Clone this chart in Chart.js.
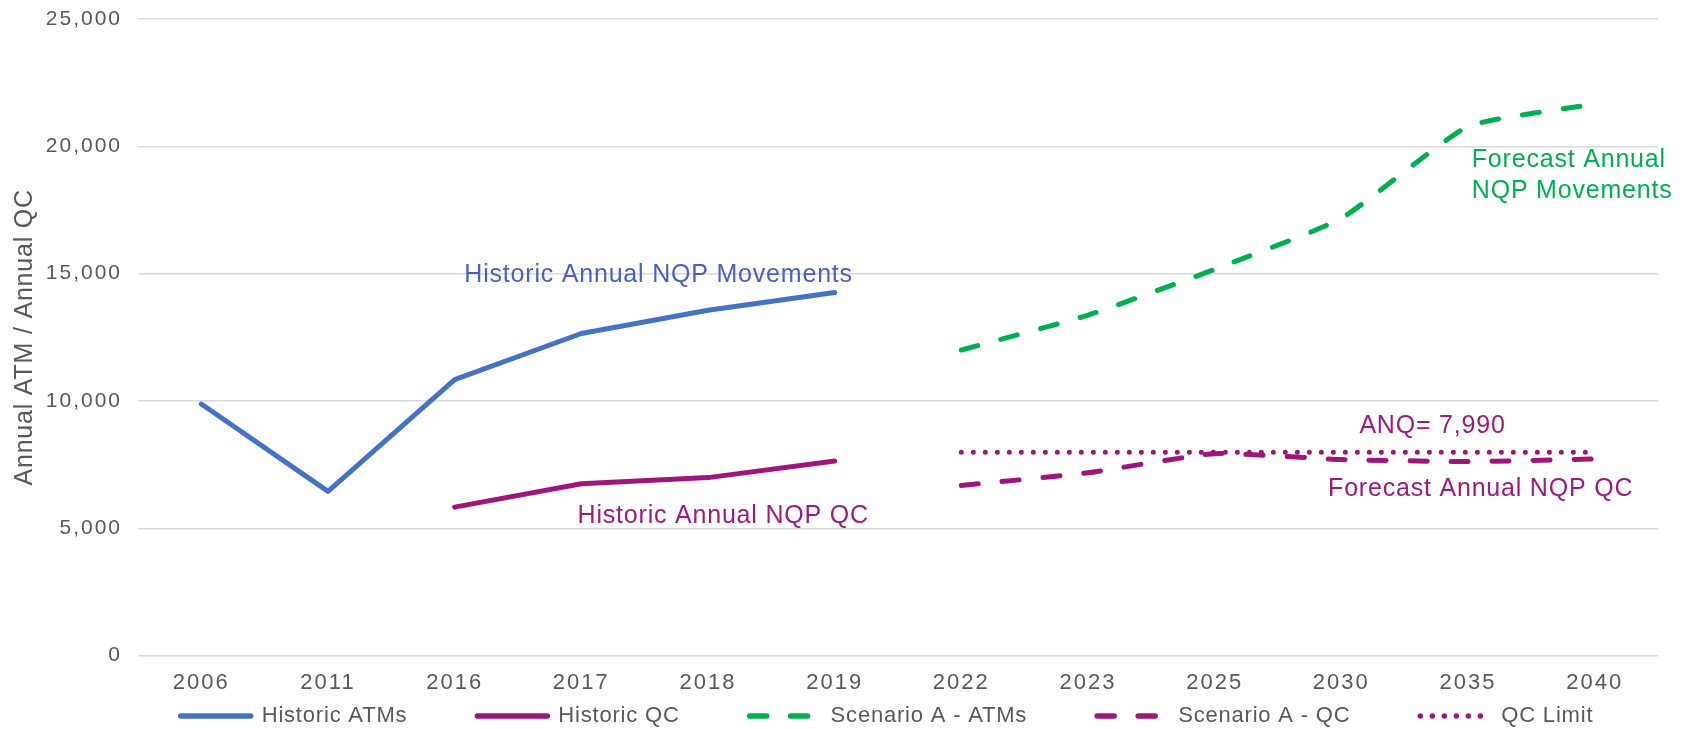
<!DOCTYPE html>
<html><head><meta charset="utf-8">
<script src="https://cdn.jsdelivr.net/npm/chart.js@4"></script>
<style>html,body{margin:0;padding:0;background:#fff;}</style>
</head><body>
<canvas id="c" width="1692" height="729"></canvas>
<script>
const years = ['2006','2011','2016','2017','2018','2019','2022','2023','2025','2030','2035','2040'];
const historicATMs = [9880, 6450, 10840, 12650, 13560, 14260, null, null, null, null, null, null];
const historicQC   = [null, null, 5830, 6750, 6990, 7640, null, null, null, null, null, null];
const scenarioATMs = [null, null, null, null, null, null, 12000, 13370, 15170, 17170, 20780, 21660];
const scenarioQC   = [null, null, null, null, null, null, 6680, 7180, 7930, 7700, 7620, 7720];
const qcLimit      = [null, null, null, null, null, null, 7990, 7990, 7990, 7990, 7990, 7990];
const seriesNames = ['Historic ATMs','Historic QC','Scenario A - ATMs','Scenario A - QC','QC Limit'];
const yAxisTitle = 'Annual ATM / Annual QC';
const labelTexts = [
  {lines:['Historic Annual NQP Movements'], x:3.61, y:14950, color:'#4B5FC9', align:'center'},
  {lines:['Historic Annual NQP QC'], x:4.12, y:5460, color:'#9B1B7F', align:'center'},
  {lines:['Forecast Annual','NQP Movements'], x:10.03, y:19460, color:'#00B050', align:'left'},
  {lines:['ANQ= 7,990'], x:9.72, y:9000, color:'#9B1B7F', align:'center'},
  {lines:['Forecast Annual NQP QC'], x:10.10, y:6525, color:'#9B1B7F', align:'center'}
];

const FONT = '"Liberation Sans", Arial, Helvetica, sans-serif';
Chart.defaults.font.family = FONT;
const BLUE = '#4472C4', PURPLE = '#9E1679', GREEN = '#00B050', GREY = '#595959';

function withSpacing(ctx, sp, fn){
  const prev = ctx.letterSpacing;
  ctx.letterSpacing = sp;
  const r = fn();
  ctx.letterSpacing = prev;
  return r;
}

const spacing = {
  id: 'spacing',
  beforeLayout(chart){
    chart.ctx.letterSpacing = '2px';
    const lg = chart.legend;
    if (lg && !lg._patched){
      const f = lg.fit, d = lg.draw;
      lg.fit = function(){ withSpacing(this.ctx, '0.8px', () => f.call(this)); this.height = 19; };
      lg.draw = function(){ withSpacing(this.ctx, '0.8px', () => d.call(this)); };
      lg._patched = true;
    }
  },
  beforeDraw(chart){ chart.ctx.letterSpacing = '2px'; },
  afterLayout(chart){
    const ys = chart.scales.y;
    if (ys && !ys._patched){
      const dt = ys.drawTitle;
      ys.drawTitle = function(){ withSpacing(this.ctx, '0.8px', () => dt.apply(this, arguments)); };
      ys._patched = true;
    }
    const lg = chart.legend; if (!lg) return;
    const pad = lg.options.labels.padding;
    const newTop = 716 - pad - 11;
    lg.top = newTop; lg.bottom = 729; lg.height = lg.bottom - lg.top;
    const dx = 887 - (lg.left + lg.right) / 2; lg.left += dx; lg.right += dx;
  }
};

const textLabels = {
  id: 'textLabels',
  afterDatasetsDraw(chart){
    const ctx = chart.ctx, xs = chart.scales.x, ys = chart.scales.y;
    ctx.save();
    ctx.letterSpacing = '0.8px';
    ctx.font = '25px ' + FONT;
    ctx.textBaseline = 'middle';
    labelTexts.forEach(t => {
      ctx.fillStyle = t.color;
      ctx.textAlign = t.align;
      t.lines.forEach((ln, i) => {
        const px = xs.getPixelForValue(t.x);
        const py = ys.getPixelForValue(t.y) + i * 31.5;
        ctx.fillText(ln, px, py);
      });
    });
    ctx.restore();
  }
};

const common = {borderWidth:5, pointRadius:0, pointHoverRadius:0, borderCapStyle:'round', borderJoinStyle:'round', fill:false, spanGaps:false};

new Chart(document.getElementById('c'), {
  type: 'line',
  data: {
    labels: years,
    datasets: [
      Object.assign({label: seriesNames[0], data: historicATMs, borderColor: BLUE, backgroundColor: BLUE, tension: 0}, common),
      Object.assign({label: seriesNames[1], data: historicQC, borderColor: PURPLE, backgroundColor: PURPLE, tension: 0}, common),
      Object.assign({label: seriesNames[2], data: scenarioATMs, borderColor: GREEN, backgroundColor: GREEN, borderDash:[17,24], tension: 0.15}, common),
      Object.assign({label: seriesNames[3], data: scenarioQC, borderColor: PURPLE, backgroundColor: PURPLE, borderDash:[17,24], tension: 0.15}, common),
      Object.assign({label: seriesNames[4], data: qcLimit, borderColor: PURPLE, backgroundColor: PURPLE, borderDash:[0,12], tension: 0}, common)
    ]
  },
  options: {
    responsive: false,
    animation: false,
    devicePixelRatio: 1,
    layout: {padding: {top: 19, right: 34, bottom: 0, left: 0}},
    plugins: {
      tooltip: {enabled: false},
      legend: {
        position: 'bottom',
        labels: {
          usePointStyle: true,
          pointStyleWidth: 70,
          boxHeight: 22,
          padding: 70,
          color: GREY,
          font: {size: 22, family: FONT},
          generateLabels(chart){
            const items = Chart.defaults.plugins.legend.labels.generateLabels(chart);
            items.forEach(it => {
              const ds = chart.data.datasets[it.datasetIndex];
              it.pointStyle = 'line'; it.lineWidth = 5.5; it.lineCap = 'round';
              it.lineDash = ds.borderDash || [];
              it.strokeStyle = ds.borderColor;
              it.fillStyle = 'rgba(0,0,0,0)';
            });
            return items;
          }
        }
      }
    },
    scales: {
      x: {
        offset: true,
        grid: {display: false, drawTicks: false, offset: true},
        border: {display: false},
        ticks: {color: GREY, font: {size: 22}, padding: 14, maxRotation: 0, autoSkip: false}
      },
      y: {
        min: 0, max: 25000,
        afterFit(s){ s.width = 138; },
        grid: {color: '#D9D9D9', lineWidth: 1.5, drawTicks: true, tickLength: 16, tickColor: 'rgba(0,0,0,0)'},
        border: {display: false},
        ticks: {stepSize: 5000, color: GREY, font: {size: 21}, padding: 0,
          callback: v => v.toLocaleString('en-US')},
        title: {display: true, text: yAxisTitle, color: GREY, font: {size: 25}, padding: {top: 10, bottom: 0}}
      }
    }
  },
  plugins: [spacing, textLabels]
});
</script>
</body></html>
